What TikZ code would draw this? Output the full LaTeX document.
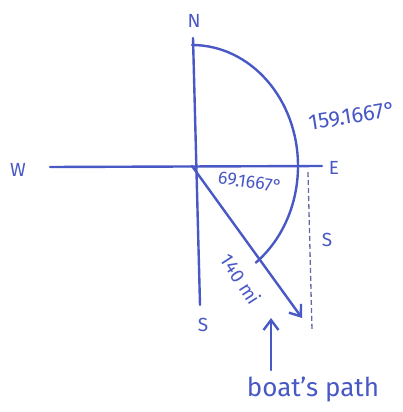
\documentclass[tikz,border=0pt]{standalone}
\usepackage{fontspec}
\setmainfont{Fira Sans}
\usepackage{xcolor}
\usetikzlibrary{arrows.meta,positioning,calc}
\definecolor{inkblue}{RGB}{72,88,196}
\tikzset{
  lbl/.style={inkblue, inner sep=1pt, font=\fontsize{19}{21}\selectfont},
  compass/.style={inkblue, line width=2.4pt, line cap=round},
  pth/.style={-{Straight Barb[length=10pt,width=15pt]}, inkblue, line width=2.4pt, line cap=round},
  guide/.style={inkblue!55!gray, dash pattern=on 5pt off 3pt, line width=1.3pt},
}

\begin{document}
\begin{tikzpicture}[x=1pt,y=-1pt]
  \useasboundingbox (0,0) rectangle (403,412);
  \coordinate (O) at (192,166);
  % compass
  \node[lbl] (N) at (194,21) {N};
  \node[lbl] (S) at (203,325) {S};
  \node[lbl] (W) at (18,170) {W};
  \node[lbl] (E) at (334,168) {E};
  \coordinate (nt) at (193,38);
  \coordinate (sb) at (200,305);
  \coordinate (wl) at (50,167);
  \coordinate (er) at (322,166);
  \draw[compass] (nt) -- (sb);
  \draw[compass] (wl) -- (er);
  % angle arc
  \draw[compass] (O) ++(0,-121) arc[start angle=90, end angle=-53, x radius=106pt, y radius=121pt];
  % boat path
  \coordinate (tip) at (302,318);
  \draw[pth] (O) -- (tip);
  \coordinate (d1) at (308,172);
  \coordinate (d2) at (312,330);
  \draw[guide] (d1) -- (d2);
  \node[lbl] (S2) at (327,240) {S};
  % labels
  \node[lbl, font=\fontsize{22}{24}\selectfont, rotate=9] (big) at (352,116) {159.1667°};
  \node[lbl, font=\fontsize{18}{20}\selectfont, rotate=-8] (ang) at (250,182) {69.1667°};
  \node[lbl, font=\fontsize{19}{21}\selectfont, rotate=-57] (dist) at (241,279) {140 mi};
  \node[lbl, font=\fontsize{26}{28}\selectfont] (bp) at (313,389) {boat's path};
  \coordinate (bpa) at (271,370);
  \coordinate (bpb) at (271,318);
  \draw[pth] (bpa) -- (bpb);
\end{tikzpicture}
\end{document}
